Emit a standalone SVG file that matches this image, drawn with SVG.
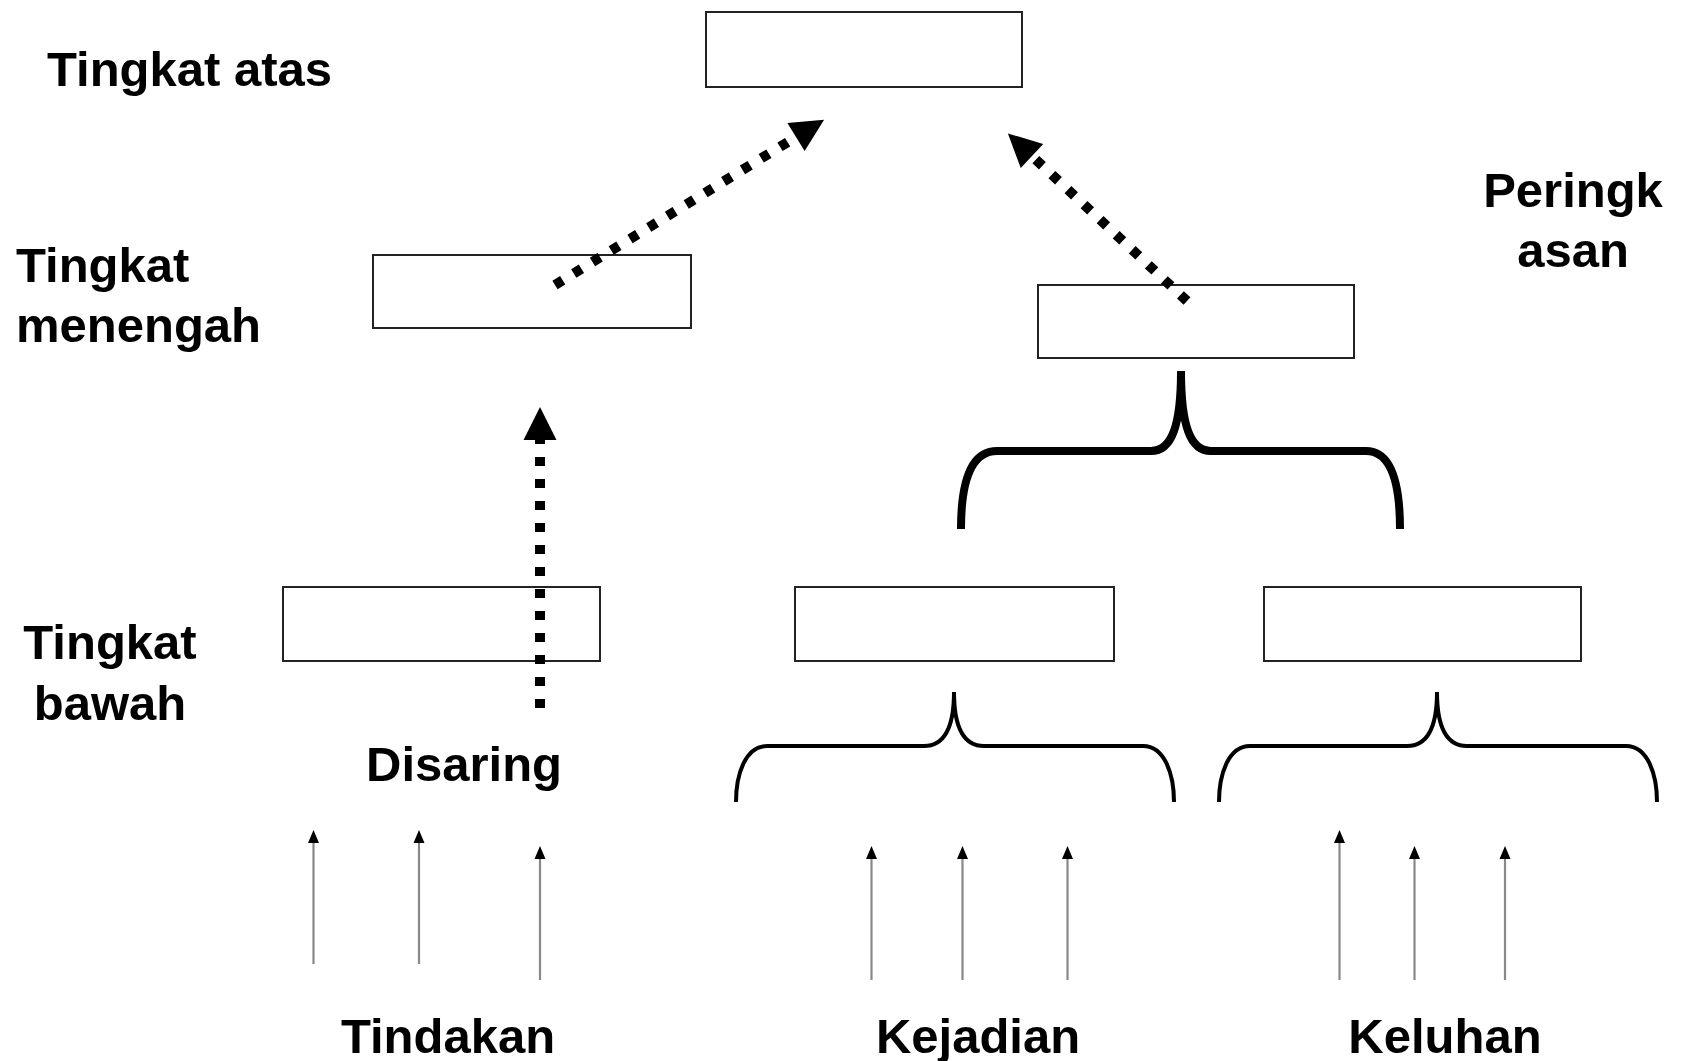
<svg xmlns="http://www.w3.org/2000/svg" width="1689" height="1061" viewBox="0 0 1689 1061">
<style>
.box{fill:#fff;stroke:#222;stroke-width:2}
.lbl{font-family:"Liberation Sans",Arial,sans-serif;font-weight:bold;font-size:49px;fill:#000}
.dot{fill:none;stroke:#000;stroke-width:10;stroke-dasharray:9 13}
.thin{fill:none;stroke:#888;stroke-width:2.2}
.brace{fill:none;stroke:#000;stroke-linejoin:round}
</style>
<defs>
<marker id="big" markerUnits="userSpaceOnUse" markerWidth="34" markerHeight="34" refX="0" refY="17" orient="auto" viewBox="0 0 34 34" overflow="visible">
<path d="M0,0.5 L33,17 L0,33.5 z" fill="#000"/>
</marker>
<marker id="small" markerUnits="userSpaceOnUse" markerWidth="14" markerHeight="12" refX="0" refY="6" orient="auto" viewBox="0 0 14 12" overflow="visible">
<path d="M0,0.5 L13,6 L0,11.5 z" fill="#000"/>
</marker>
</defs>
<g id="labels">
<text class="lbl" x="47" y="86">Tingkat atas</text>
<text class="lbl" x="16" y="282">Tingkat</text>
<text class="lbl" x="16" y="342">menengah</text>
<text class="lbl" x="110" y="659" text-anchor="middle">Tingkat</text>
<text class="lbl" x="110" y="720" text-anchor="middle">bawah</text>
<text class="lbl" x="1573" y="207" text-anchor="middle">Peringk</text>
<text class="lbl" x="1573" y="267" text-anchor="middle">asan</text>
<text class="lbl" x="366" y="781">Disaring</text>
<text class="lbl" x="448" y="1053" text-anchor="middle">Tindakan</text>
<text class="lbl" x="978" y="1053" text-anchor="middle">Kejadian</text>
<text class="lbl" x="1445" y="1053" text-anchor="middle">Keluhan</text>
</g>
<g id="node-top"><rect class="box" x="706" y="12" width="316" height="75"/></g>
<g id="node-mid-left"><rect class="box" x="373" y="255" width="318" height="73"/></g>
<g id="node-mid-right"><rect class="box" x="1038" y="285" width="316" height="73"/></g>
<g id="node-bottom-1"><rect class="box" x="283" y="587" width="317" height="74"/></g>
<g id="node-bottom-2"><rect class="box" x="795" y="587" width="319" height="74"/></g>
<g id="node-bottom-3"><rect class="box" x="1264" y="587" width="317" height="74"/></g>
<g id="connectors">
<path class="dot" d="M555,285 L796,137" marker-end="url(#big)"/>
<path class="dot" d="M1187,301 L1032,156" marker-end="url(#big)"/>
<path class="dot" d="M540,708 L540,440" marker-end="url(#big)"/>
<path class="brace" stroke-width="8" d="M1181,371 C1181,425 1172,451 1151,451 L997,451 C971,451 961,482 961,529"/>
<path class="brace" stroke-width="8" d="M1181,371 C1181,425 1190,451 1211,451 L1366,451 C1391,451 1400,482 1400,529"/>
<path class="brace" stroke-width="4" d="M954,692 C954,725 946,746 924,746 L767,746 C745,746 736,775 736,802"/>
<path class="brace" stroke-width="4" d="M954,692 C954,725 962,746 984,746 L1143,746 C1165,746 1174,775 1174,802"/>
<path class="brace" stroke-width="4" d="M1437,692 C1437,725 1429,746 1407,746 L1250,746 C1228,746 1219,775 1219,802"/>
<path class="brace" stroke-width="4" d="M1437,692 C1437,725 1445,746 1467,746 L1626,746 C1648,746 1657,775 1657,802"/>
<path class="thin" d="M313.5,964 L313.5,843" marker-end="url(#small)"/>
<path class="thin" d="M419,964 L419,843" marker-end="url(#small)"/>
<path class="thin" d="M540,980 L540,859" marker-end="url(#small)"/>
<path class="thin" d="M871.5,980 L871.5,859" marker-end="url(#small)"/>
<path class="thin" d="M962.5,980 L962.5,859" marker-end="url(#small)"/>
<path class="thin" d="M1067.5,980 L1067.5,859" marker-end="url(#small)"/>
<path class="thin" d="M1339.5,980 L1339.5,843" marker-end="url(#small)"/>
<path class="thin" d="M1414.5,980 L1414.5,859" marker-end="url(#small)"/>
<path class="thin" d="M1505,980 L1505,859" marker-end="url(#small)"/>
</g>
</svg>
